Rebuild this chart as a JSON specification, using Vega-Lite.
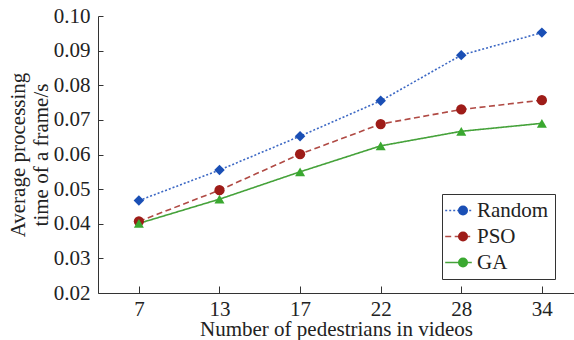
{
  "$schema": "https://vega.github.io/schema/vega-lite/v6.json",
  "autosize": "none",
  "width": 476,
  "height": 277,
  "padding": {"left": 98, "top": 16, "right": 0, "bottom": 47},
  "background": "white",
  "config": {
    "view": {"stroke": null},
    "axis": {
      "labelFont": "Liberation Serif",
      "titleFont": "Liberation Serif",
      "labelFontSize": 21,
      "titleFontSize": 21,
      "titleFontWeight": "normal",
      "labelColor": "#222",
      "titleColor": "#222",
      "domainColor": "#333",
      "tickColor": "#333",
      "grid": false
    }
  },
  "data": {
    "values": [
      {"n": 7, "method": "Random", "t": 0.0467},
      {"n": 13, "method": "Random", "t": 0.0555},
      {"n": 17, "method": "Random", "t": 0.0653},
      {"n": 22, "method": "Random", "t": 0.0755},
      {"n": 28, "method": "Random", "t": 0.0887},
      {"n": 34, "method": "Random", "t": 0.0952},
      {"n": 7, "method": "PSO", "t": 0.0407},
      {"n": 13, "method": "PSO", "t": 0.0497},
      {"n": 17, "method": "PSO", "t": 0.0601},
      {"n": 22, "method": "PSO", "t": 0.0688},
      {"n": 28, "method": "PSO", "t": 0.0730},
      {"n": 34, "method": "PSO", "t": 0.0757},
      {"n": 7, "method": "GA", "t": 0.0401},
      {"n": 13, "method": "GA", "t": 0.0471},
      {"n": 17, "method": "GA", "t": 0.0550},
      {"n": 22, "method": "GA", "t": 0.0625},
      {"n": 28, "method": "GA", "t": 0.0667},
      {"n": 34, "method": "GA", "t": 0.0690}
    ]
  },
  "encoding": {
    "x": {
      "field": "n",
      "type": "ordinal",
      "sort": [7, 13, 17, 22, 28, 34],
      "scale": {"type": "point", "padding": 0.453, "align": 0.56},
      "axis": {
        "title": "Number of pedestrians in videos",
        "labelAngle": 0,
        "tickSize": -7,
        "labelPadding": 12,
        "titlePadding": -1
      }
    },
    "y": {
      "field": "t",
      "type": "quantitative",
      "scale": {"domain": [0.02, 0.10], "nice": false, "zero": false},
      "axis": {
        "title": ["Average processing", "time of a frame/s"],
        "values": [0.02, 0.03, 0.04, 0.05, 0.06, 0.07, 0.08, 0.09, 0.10],
        "format": ".2f",
        "tickSize": -5,
        "labelPadding": 13,
        "titlePadding": 2,
        "titleLineHeight": 23
      }
    }
  },
  "layer": [
    {
      "mark": {"type": "line", "strokeWidth": 1.6},
      "encoding": {
        "stroke": {
          "field": "method",
          "type": "nominal",
          "scale": {"domain": ["Random", "PSO", "GA"], "range": ["#3c68c4", "#b04a44", "#45a23a"]},
          "legend": {
            "title": null,
            "orient": "none",
            "legendX": 344,
            "legendY": 178,
            "strokeColor": "#333",
            "padding": 6,
            "labelFont": "Liberation Serif",
            "labelFontSize": 21,
            "labelColor": "#222",
            "labelOffset": 8,
            "rowPadding": 4,
            "symbolType": "M-1.4,0H1.4",
            "symbolSize": 361,
            "symbolStrokeWidth": 1.6
          }
        },
        "strokeDash": {
          "field": "method",
          "type": "nominal",
          "scale": {"domain": ["Random", "PSO", "GA"], "range": [[2, 2], [6, 3.5], [1, 0]]}
        }
      }
    },
    {
      "mark": {"type": "point", "filled": true, "opacity": 1},
      "encoding": {
        "color": {
          "field": "method",
          "type": "nominal",
          "sort": ["Random", "PSO", "GA"],
          "scale": {"range": ["#1a4fb5", "#9e1c18", "#3aa830"]},
          "legend": {
            "title": null,
            "orient": "none",
            "legendX": 348.5,
            "legendY": 178,
            "padding": 6,
            "labelFont": "Liberation Serif",
            "labelFontSize": 21,
            "labelOpacity": 0,
            "labelOffset": 8,
            "rowPadding": 4,
            "symbolStrokeWidth": 1.5
          }
        },
        "shape": {
          "field": "method",
          "type": "nominal",
          "sort": ["Random", "PSO", "GA"],
          "scale": {"range": ["diamond", "circle", "triangle-up"]}
        },
        "size": {
          "field": "method",
          "type": "nominal",
          "sort": ["Random", "PSO", "GA"],
          "scale": {"range": [110, 100, 100]}
        }
      }
    }
  ]
}
